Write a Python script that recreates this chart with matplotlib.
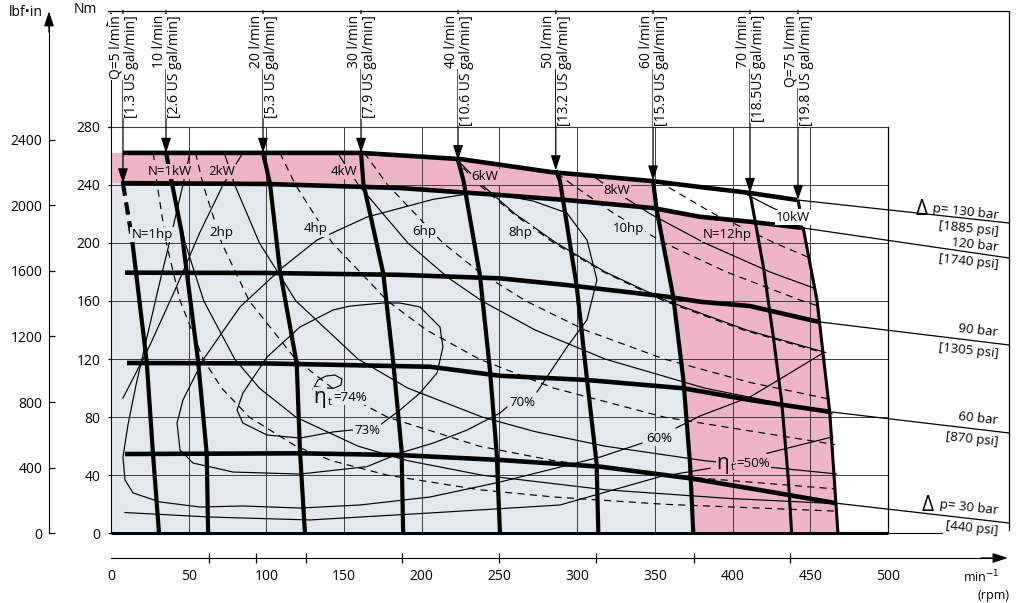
import matplotlib

matplotlib.use("Agg")

import matplotlib.pyplot as plt
import numpy as np

plt.rcParams["font.family"] = ["Open Sans", "DejaVu Sans"]

PINK = "#eeb5c8"
BLUE = "#e3e8ef"
GRID = "#3c3c3c"
FS = 9.5

# axes
NM_TICKS = [0, 40, 80, 120, 160, 200, 240, 280]
LBF_TICKS = [0, 400, 800, 1200, 1600, 2000, 2400]
RPM_LABELS = [0, 50, 100, 150, 200, 250, 300, 350, 400, 450, 500]
RPM_TICKS = [0, 63, 93, 125.5, 187, 249.5, 312, 375, 437, 500]
GRID_RPM = [50, 100, 150, 200, 250, 300, 350, 400, 450]
GRID_NM = [40, 80, 120, 160, 200, 240]
NM_TO_LBFIN = 8.8507
EDGE_RPM = 577.9

# pressure drop curves (rpm, Nm)
P130_RPM = [7.7, 99.7, 160.9, 225.2, 283.1, 348.1, 379, 411.2, 441.4]
P130_NM = [262, 262, 262, 257.7, 248.8, 242.6, 238.5, 234.4, 229.6]
P120_RPM = [6.4, 99.7, 186, 250.3, 293.4, 348.8, 379, 411.2, 445.3]
P120_NM = [241.2, 240.6, 237.8, 233, 229.5, 224, 218, 214.6, 210.3]
P90_RPM = [9, 99.7, 186, 250.3, 293.2, 357.6, 379, 411.2, 455]
P90_NM = [179.5, 179.3, 178, 175.6, 171, 163, 159.5, 156.5, 145.7]
P60_RPM = [10.3, 99.7, 205.3, 250.3, 306.1, 368.3, 411.2, 462.5]
P60_NM = [117.3, 117, 114.7, 108.5, 105.6, 99.9, 91.8, 83.7]
P30_RPM = [9, 121.6, 186, 250.3, 314.7, 372.6, 420.2, 466.9]
P30_NM = [54.6, 55.1, 53.9, 50.5, 45.9, 37.9, 29.3, 20.7]
P_EXT_NM = [213.7, 189.6, 129.7, 69.1, 7.1]
P_LABEL_TOP = ["p= 130 bar", "120 bar", "90 bar", "60 bar", "p= 30 bar"]
P_LABEL_BOT = ["[1885 psi]", "[1740 psi]", "[1305 psi]", "[870 psi]", "[440 psi]"]

# flow curves (rpm, Nm)
Q5_RPM = [7.7, 13.5, 23, 27, 30.9]
Q5_NM = [241, 203, 118, 55, 0]
Q10_RPM = [35.4, 45.5, 56, 61.6, 62.5]
Q10_NM = [262, 207, 119, 55, 0]
Q20_RPM = [97.8, 102.3, 108.7, 119.5, 121.6, 124.8]
Q20_NM = [262, 241, 181, 117, 57, 0]
Q30_RPM = [160.9, 162.4, 175.2, 181.7, 187, 188]
Q30_NM = [262, 241, 179, 117, 57, 0]
Q40_RPM = [223.3, 226.8, 237.5, 243.9, 248.2, 250.3]
Q40_NM = [257, 243, 177, 112, 55, 0]
Q50_RPM = [286.2, 288.9, 299.7, 306.1, 312.5, 313.6]
Q50_NM = [250, 243, 170, 108, 48, 0]
Q60_RPM = [348.8, 351.1, 361.8, 368.3, 372.6, 374.7]
Q60_NM = [243, 223, 163, 106, 48, 0]
Q70_RPM = [411.2, 419.8, 426.2, 431.6, 435.9, 438]
Q70_NM = [234.4, 183.6, 135.4, 90.6, 36.7, 0]
Q75_RPM = [442.1, 445.3, 454.3, 462.5, 467.8]
Q75_NM = [229.6, 211, 160.6, 83.5, 0]
Q_NAMES = ["Q=5 l/min", "10 l/min", "20 l/min", "30 l/min", "40 l/min",
           "50 l/min", "60 l/min", "70 l/min", "Q=75 l/min"]
Q_GAL = ["[1.3 US gal/min]", "[2.6 US gal/min]", "[5.3 US gal/min]",
         "[7.9 US gal/min]", "[10.6 US gal/min]", "[13.2 US gal/min]",
         "[15.9 US gal/min]", "[18.5US gal/min]", "[19.8 US gal/min]"]

# constant power curves, kW (solid) and hp (dashed)
KW1_RPM = [36.4, 39.8, 47.7, 59.7, 79.6, 95.5, 119, 159, 191, 239, 318, 398, 467]
KW1_NM = [262, 240, 200, 160, 120, 100, 80, 60, 50, 40, 30, 24, 20.4]
KW2_RPM = [72.9, 79.6, 95.5, 119, 159, 191, 239, 273, 318, 382, 467]
KW2_NM = [262, 240, 200, 160, 120, 100, 80, 70, 60, 50, 40.9]
KW4_RPM = [145.8, 159.2, 191, 217, 238.7, 273, 318, 382, 464]
KW4_NM = [262, 240, 200, 176, 160, 140, 120, 100, 82.3]
KW6_RPM = [222, 238.7, 260, 286.5, 318, 358, 409, 460]
KW6_NM = [258, 240, 220, 200, 180, 160, 140, 124.5]
KW8_RPM = [310, 318, 347, 382, 424, 452]
KW8_NM = [246.4, 240, 220, 200, 180, 169]
KW10_RPM = [408, 424, 445]
KW10_NM = [234, 225, 214.6]
HP1_RPM = [27.2, 29.7, 35.6, 44.5, 59.3, 71.2, 89, 119, 142, 178, 237, 285, 356, 466]
HP1_NM = [262, 240, 200, 160, 120, 100, 80, 60, 50, 40, 30, 25, 20, 15.3]
HP2_RPM = [54.4, 59.3, 71.2, 89, 118.7, 142.4, 178, 237, 285, 356, 466]
HP2_NM = [262, 240, 200, 160, 120, 100, 80, 60, 50, 40, 30.6]
HP4_RPM = [108.7, 118.7, 142.4, 178, 203, 237, 285, 356, 466]
HP4_NM = [262, 240, 200, 160, 140, 120, 100, 80, 61.1]
HP6_RPM = [163, 178, 213.6, 237, 267, 305, 356, 412, 462]
HP6_NM = [262, 240, 200, 180, 160, 140, 120, 103.7, 92.5]
HP8_RPM = [221, 237, 259, 285, 317, 356, 407, 458]
HP8_NM = [258, 240, 220, 200, 180, 160, 140, 124.4]
HP10_RPM = [287, 297, 324, 356, 396, 445, 454]
HP10_NM = [248, 240, 220, 200, 180, 160, 157]
HP12_RPM = [352, 356, 388, 427, 449]
HP12_NM = [242.5, 240, 220, 200, 190]

# total efficiency contours
E74_RPM = [130, 133.2, 138.4, 144.1, 148.6, 148, 143.5, 137.7, 132]
E74_NM = [99.3, 105.6, 108.3, 109, 106.3, 102.1, 100, 100, 101]
E73_RPM = [173.1, 186, 198.8, 209.8, 213.6, 211.7, 198.8, 186, 175, 153.8, 142.9,
           121.6, 100.4, 84.9, 81.1, 84.9, 100.4, 121.6, 142.9, 155.7]
E73_NM = [74.6, 84.9, 96.6, 110.4, 128.3, 142.1, 155.9, 158.6, 158.6, 156.5, 153.8,
          142.1, 121.4, 96.6, 84.9, 75.9, 67.7, 65.6, 69.8, 71.2]
E70_RPM = [254.8, 250.3, 229.1, 207.2, 186, 164.7, 121.6, 78.5, 52.8, 44.4, 42.5,
           46.3, 59.2, 83, 110.7, 132.6, 164.7, 207.2, 229, 250.3, 271.6, 293.4,
           306.3, 312.7, 306.3, 293.4, 274.1]
E70_NM = [87, 82.8, 71.1, 62.1, 55.3, 45.9, 40.8, 42.2, 48.4, 57.4, 76, 91.8,
          119.4, 155.9, 183.4, 202, 217.8, 230, 233.6, 233, 228.9, 220.6, 202,
          174.5, 147, 128.3, 97.3]
E60_RPM = [50.8, 46.3, 38, 30.2, 23.2, 16.1, 10.9, 7.7, 9, 14.2, 31.5, 57.3, 84.9,
           121.6, 160.2, 205.3, 250.3, 288.9, 314.7, 341.7]
E60_NM = [262, 240, 202, 167.6, 135.3, 102.2, 74.6, 52.5, 36.7, 27.8, 21.6, 18.1,
          18.8, 17.4, 19.5, 25, 35.3, 45.6, 52.5, 62.1]
E60R_RPM = [363.6, 379, 411.2, 433.7, 458.2]
E60R_NM = [72.5, 80.8, 93.9, 108.3, 124.2]
E50_RPM = [9, 63.7, 128.1, 205.3, 288.9, 353.3, 385.5]
E50_NM = [14.3, 11.2, 9.2, 14, 19.5, 39, 44.8]
E50R_RPM = [422.1, 464.6]
E50R_NM = [55.1, 66.5]
EA_RPM = [84.9, 72.1, 57.3, 41.2, 25.1, 15.4, 7.7]
EA_NM = [262, 240, 207.5, 167.6, 129.7, 109.1, 93.2]


def q_rpm_at(q_rpm, q_nm, nm):
    return np.interp(nm, q_nm[::-1], q_rpm[::-1])


fig = plt.figure(figsize=(10.16, 6.03), dpi=100)
ax = fig.add_axes([0, 0, 1, 1])
ax.set_xlim(-71.43, 582.37)
ax.set_ylim(-48.0, 367.3)
ax.patch.set_alpha(0)

# continuous (blue) and intermittent (pink) areas
top = [(x, y) for x, y in zip(P120_RPM, P120_NM) if x <= q_rpm_at(Q60_RPM, Q60_NM, y)]
right = [(x, y) for x, y in zip(Q60_RPM, Q60_NM) if y < np.interp(x, P120_RPM, P120_NM)]
blue = [(0, P120_NM[0])] + top + right + [(0, 0)]
ax.fill(*zip(*blue), color=BLUE, lw=0, zorder=0)

band = [(0, P130_NM[0])] + [(x, y) for x, y in zip(P130_RPM, P130_NM) if x < Q60_RPM[0]]
band += list(zip(Q60_RPM, Q60_NM))
band += [(x, y) for x, y in zip(Q75_RPM[::-1], Q75_NM[::-1])
         if y < np.interp(x, P120_RPM, P120_NM)]
band += [(x, y) for x, y in zip(P120_RPM[::-1], P120_NM[::-1])
         if x <= q_rpm_at(Q75_RPM, Q75_NM, y)]
band += [(0, P120_NM[0])]
ax.fill(*zip(*band), color=PINK, lw=0, zorder=0)

# grid
for r in GRID_RPM:
    ax.plot([r, r], [0, 280], color=GRID, lw=0.7, zorder=1)
for n in GRID_NM:
    ax.plot([0, 500], [n, n], color=GRID, lw=0.7, zorder=1)
ax.plot([-2, 500], [280, 280], color=GRID, lw=0.8, zorder=1)
ax.plot([500, 500], [0, 280], color="black", lw=0.9, zorder=1)
ax.plot([0, 500], [0, 0], color="black", lw=2.2, zorder=3, solid_capstyle="butt")
ax.plot([500, 535], [0, 0], color="black", lw=0.8, zorder=1)

# frame
ax.plot([-2, EDGE_RPM, EDGE_RPM], [360, 360, 2.3], color="black", lw=0.9, zorder=1)

thin = dict(color="black", lw=0.85, zorder=2)
for xs, ys in [(KW1_RPM, KW1_NM), (KW2_RPM, KW2_NM), (KW4_RPM, KW4_NM),
               (KW6_RPM, KW6_NM), (KW8_RPM, KW8_NM), (KW10_RPM, KW10_NM)]:
    ax.plot(xs, ys, **thin)
for xs, ys in [(HP1_RPM, HP1_NM), (HP2_RPM, HP2_NM), (HP4_RPM, HP4_NM),
               (HP6_RPM, HP6_NM), (HP8_RPM, HP8_NM), (HP10_RPM, HP10_NM),
               (HP12_RPM, HP12_NM)]:
    ax.plot(xs, ys, dashes=(6, 4.5), **thin)
for xs, ys in [(E74_RPM, E74_NM), (E73_RPM, E73_NM), (E70_RPM, E70_NM),
               (E60_RPM, E60_NM), (E60R_RPM, E60R_NM), (E50_RPM, E50_NM),
               (E50R_RPM, E50R_NM), (EA_RPM, EA_NM)]:
    ax.plot(xs, ys, **thin)

# pressure curves
pressures = [(P130_RPM, P130_NM), (P120_RPM, P120_NM), (P90_RPM, P90_NM),
             (P60_RPM, P60_NM), (P30_RPM, P30_NM)]
label_top_nm = [216.6, 194.4, 135.9, 75.3, 13.3]
label_bot_nm = [205.0, 182.5, 121.2, 60.6, -0.8]
for (xs, ys), ext, t1, t2, y1, y2 in zip(pressures, P_EXT_NM, P_LABEL_TOP,
                                         P_LABEL_BOT, label_top_nm, label_bot_nm):
    ax.plot(xs, ys, color="black", lw=3.3, zorder=3, solid_capstyle="butt")
    ax.plot([xs[-1], EDGE_RPM], [ys[-1], ext], color="black", lw=0.9, zorder=2)
    ax.text(570.8, y1, t1, fontsize=FS, rotation=-6, rotation_mode="anchor",
            ha="right", va="baseline", zorder=5)
    ax.text(570.8, y2, t2, fontsize=FS, rotation=-6, rotation_mode="anchor",
            ha="right", va="baseline", zorder=5)
ax.text(525.5, 219.5, "Δ", fontsize=15, ha="right", va="baseline", zorder=5)
ax.text(529.5, 15.5, "Δ", fontsize=15, ha="right", va="baseline", zorder=5)

# flow curves with arrows and labels
flows = [(Q5_RPM, Q5_NM), (Q10_RPM, Q10_NM), (Q20_RPM, Q20_NM), (Q30_RPM, Q30_NM),
         (Q40_RPM, Q40_NM), (Q50_RPM, Q50_NM), (Q60_RPM, Q60_NM),
         (Q70_RPM, Q70_NM), (Q75_RPM, Q75_NM)]
for i, ((xs, ys), name, gal) in enumerate(zip(flows, Q_NAMES, Q_GAL)):
    lw = 2.2 if i >= 7 else 3.0
    if i in (0, 8):
        ax.plot(xs[:2], ys[:2], color="black", lw=lw, dashes=(3, 1.6), zorder=3)
        ax.plot(xs[1:], ys[1:], color="black", lw=lw, zorder=3, solid_capstyle="butt")
    else:
        ax.plot(xs, ys, color="black", lw=lw, zorder=3, solid_capstyle="butt")
    ax.annotate("", xy=(xs[0], ys[0]), xytext=(xs[0], 360),
                arrowprops=dict(arrowstyle="-|>,head_length=0.75,head_width=0.25",
                                color="black", lw=0.9, shrinkA=0, shrinkB=0,
                                mutation_scale=12), zorder=4)
    box = dict(boxstyle="square,pad=0.05", fc="white", ec="none")
    ax.annotate(name, xy=(xs[0], 357), xytext=(-4.9, 0), textcoords="offset points",
                rotation=90, ha="center", va="top", fontsize=10, bbox=box, zorder=5)
    ax.annotate(gal, xy=(xs[0], 357), xytext=(6.0, 0), textcoords="offset points",
                rotation=90, ha="center", va="top", fontsize=10, bbox=box, zorder=5)

# power and efficiency labels
labels = [
    ("N=1kW", 38, 249.3, PINK), ("2kW", 71.4, 249.3, PINK), ("4kW", 149.9, 249.3, PINK),
    ("6kW", 240.7, 245.4, PINK), ("8kW", 325.6, 236.4, PINK), ("10kW", 438.9, 217.2, "white"),
    ("N=1hp", 26.4, 206.1, BLUE), ("2hp", 70.8, 207.5, BLUE), ("4hp", 131.9, 209.6, BLUE),
    ("6hp", 201.4, 208.2, BLUE), ("8hp", 263.2, 207.5, BLUE), ("10hp", 332.7, 209.6, BLUE),
    ("N=12hp", 396.4, 206.1, PINK),
    ("73%", 164.7, 70.5, BLUE), ("70%", 264.5, 90.4, BLUE), ("60%", 352.6, 65.6, BLUE),
]
for text, x, y, bg in labels:
    ax.text(x, y, text, fontsize=FS, ha="center", va="center", zorder=5,
            bbox=dict(boxstyle="square,pad=0.08", fc=bg, ec="none"))
for x, y, pct, bg in [(134.5, 93.2, "=74%", BLUE), (393.8, 48.4, "=50%", PINK)]:
    ax.text(x, y, "η", fontsize=15, ha="center", va="center", zorder=5,
            bbox=dict(boxstyle="square,pad=0.02", fc=bg, ec="none"))
    ax.text(x + 6.2, y - 3.2, "t", fontsize=8, ha="center", va="center", zorder=5,
            bbox=dict(boxstyle="square,pad=0.02", fc=bg, ec="none"))
    ax.text(x + 8.6, y, pct, fontsize=FS, ha="left", va="center", zorder=5,
            bbox=dict(boxstyle="square,pad=0.05", fc=bg, ec="none"))

# axes: Nm (left), lbf.in (secondary), rpm (bottom)
for s in ["top", "right"]:
    ax.spines[s].set_visible(False)
ax.spines["left"].set_position(("data", 0))
ax.spines["left"].set_bounds(0, 352)
ax.spines["bottom"].set_position(("data", -17))
ax.spines["bottom"].set_bounds(0, 570)
ax.set_yticks(NM_TICKS)
ax.tick_params(axis="y", direction="out", length=2.2, width=0.9, pad=5.5, labelsize=10)
ax.set_xticks(RPM_LABELS)
ax.set_xticks(RPM_TICKS, minor=True)
ax.tick_params(axis="x", which="major", length=0, pad=8, labelsize=10)
ax.tick_params(axis="x", which="minor", direction="inout", length=6.5, width=0.9)

sec = ax.secondary_yaxis(49.3 / 1016, functions=(lambda v: v * NM_TO_LBFIN,
                                                 lambda v: v / NM_TO_LBFIN))
sec.set_yticks(LBF_TICKS)
sec.tick_params(direction="in", length=4.3, width=0.9, pad=5, labelsize=10)
sec.spines["left"].set_bounds(0, 352 * NM_TO_LBFIN)

arrow = dict(arrowstyle="-|>,head_length=0.75,head_width=0.25", color="black",
             lw=0.9, shrinkA=0, shrinkB=0, mutation_scale=12)
ax.annotate("", xy=(0, 359.5), xytext=(0, 345), arrowprops=arrow, annotation_clip=False)
ax.annotate("", xy=(-39.9, 359.5), xytext=(-39.9, 345), arrowprops=arrow,
            annotation_clip=False)
ax.annotate("", xy=(577, -17), xytext=(560, -17), arrowprops=arrow, annotation_clip=False)

ax.text(-16.7, 360.5, "Nm", fontsize=10, ha="center", va="center")
ax.text(-54.5, 358.5, "lbf•in", fontsize=10, ha="center", va="center")
ax.text(571.5, -30.3, "min$^{-1}$", fontsize=9, ha="right", va="center")
ax.text(578.5, -42.7, "(rpm)", fontsize=9, ha="right", va="center")

fig.savefig("out.png", dpi=100)
